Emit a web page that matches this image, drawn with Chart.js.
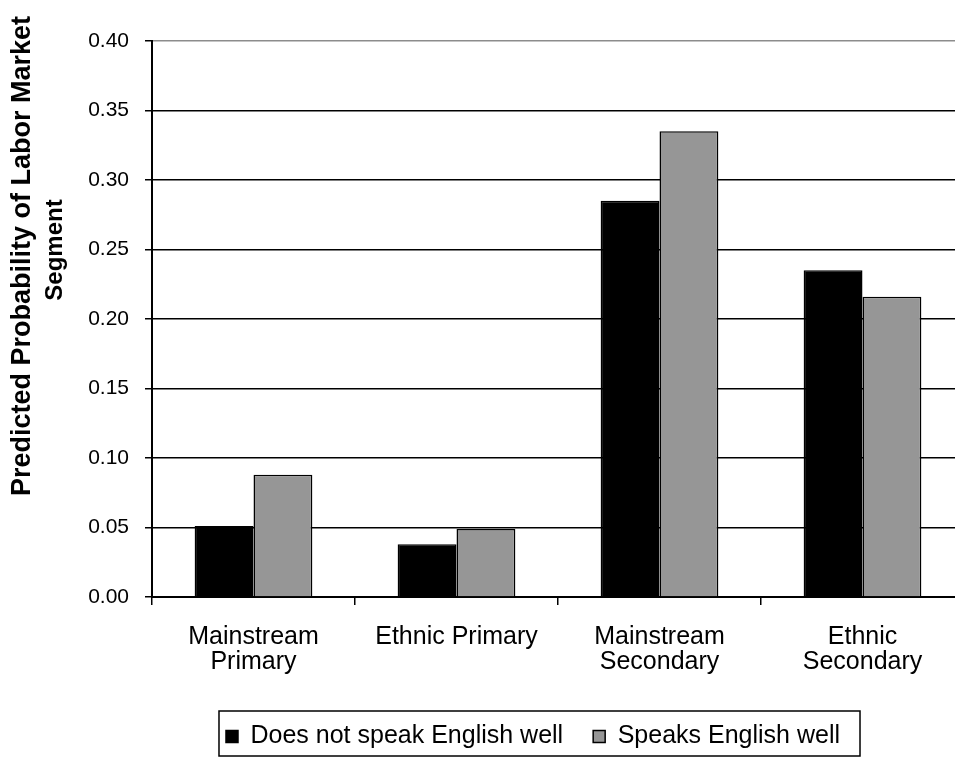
<!DOCTYPE html>
<html>
<head>
<meta charset="utf-8">
<script src="https://cdn.jsdelivr.net/npm/chart.js@4.4.0/dist/chart.umd.min.js"></script>
<style>
  html, body { margin: 0; padding: 0; background: #fff; overflow: hidden; }
  #wrap { position: relative; width: 975px; height: 759px; }
</style>
</head>
<body>
<div id="wrap"><canvas id="chart" width="975" height="759"></canvas></div>
<script>
// Labor market segment chart data
const categories = [['Mainstream', 'Primary'], 'Ethnic Primary', ['Mainstream', 'Secondary'], ['Ethnic', 'Secondary']];
const seriesNames = ['Does not speak English well', 'Speaks English well'];
const notWell = [0.051, 0.038, 0.285, 0.235];
const well = [0.088, 0.049, 0.335, 0.216];
const yMin = 0;
const yMax = 0.40;
const yStep = 0.05;
const yTitle = ['Predicted Probability of Labor Market', 'Segment'];

const FONT = '"Liberation Sans", Arial, sans-serif';

// Rotated two-line y-axis title
function drawRotated(ctx, text, x, y, size) {
  ctx.save();
  ctx.font = 'bold ' + size + 'px ' + FONT;
  ctx.fillStyle = '#000';
  ctx.textAlign = 'center';
  ctx.textBaseline = 'middle';
  ctx.translate(x, y);
  ctx.rotate(-Math.PI / 2);
  ctx.fillText(text, 0, 0);
  ctx.restore();
}

const yTitlePlugin = {
  id: 'yTitle',
  afterDraw(chart) {
    drawRotated(chart.ctx, yTitle[0], 23, 256, 27);
    drawRotated(chart.ctx, yTitle[1], 55, 250, 24);
  }
};

// Legend sits a bit right of centre, inside a framed box
const legendBoxPlugin = {
  id: 'legendBox',
  afterLayout(chart) {
    if (chart.legend) {
      chart.legend.left += 51;
      chart.legend.right += 51;
    }
  },
  afterDraw(chart) {
    const boxes = chart.legend && chart.legend.legendHitBoxes;
    if (!boxes || !boxes.length) return;
    const left = Math.min(...boxes.map(b => b.left)) - 7;
    const right = Math.max(...boxes.map(b => b.left + b.width)) + 20;
    const top = boxes[0].top - 13;
    const bottom = boxes[0].top + boxes[0].height + 7;
    const ctx = chart.ctx;
    ctx.save();
    ctx.strokeStyle = '#000';
    ctx.lineWidth = 1.5;
    ctx.strokeRect(left, top, right - left, bottom - top);
    ctx.restore();
  }
};

new Chart(document.getElementById('chart'), {
  type: 'bar',
  data: {
    labels: categories,
    datasets: [
      {
        label: seriesNames[0],
        data: notWell,
        backgroundColor: '#000000',
        borderColor: '#000000',
        borderWidth: 1.5,
        categoryPercentage: 0.58,
        barPercentage: 1.0
      },
      {
        label: seriesNames[1],
        data: well,
        backgroundColor: '#969696',
        borderColor: '#000000',
        borderWidth: 1.5,
        categoryPercentage: 0.58,
        barPercentage: 1.0
      }
    ]
  },
  options: {
    responsive: false,
    animation: false,
    layout: { padding: { left: 0, right: 11, top: 41, bottom: 0 } },
    scales: {
      y: {
        min: yMin,
        max: yMax,
        afterFit(scale) { scale.width = 152; },
        ticks: {
          stepSize: yStep,
          callback: v => v.toFixed(2),
          font: { family: FONT, size: 21 },
          color: '#000',
          padding: 16
        },
        grid: {
          color: c => (c.tick && Math.abs(c.tick.value - yMax) < 1e-9 ? '#8c8c8c' : '#000'),
          lineWidth: 1.5,
          tickLength: 7,
          tickColor: '#000'
        },
        border: { color: '#000', width: 2 }
      },
      x: {
        afterFit(scale) { scale.height = 97; },
        ticks: {
          font: { family: FONT, size: 25, lineHeight: 1.0 },
          color: '#000',
          maxRotation: 0,
          autoSkip: false,
          padding: 20
        },
        grid: {
          drawOnChartArea: false,
          tickLength: 8,
          tickColor: '#000',
          lineWidth: 1.5
        },
        border: { color: '#000', width: 2 }
      }
    },
    plugins: {
      legend: {
        position: 'bottom',
        labels: {
          boxWidth: 12,
          boxHeight: 12,
          font: { family: FONT, size: 25 },
          color: '#000',
          padding: 30
        }
      },
      tooltip: { enabled: false }
    }
  },
  plugins: [yTitlePlugin, legendBoxPlugin]
});
</script>
</body>
</html>
